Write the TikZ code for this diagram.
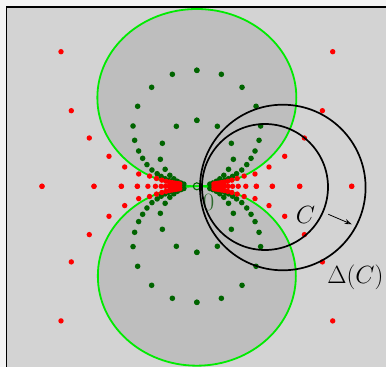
\documentclass[tikz,border=0pt]{standalone}
\usetikzlibrary{arrows.meta}
\definecolor{bgout}{RGB}{244,244,244}
\definecolor{panel}{RGB}{211,211,211}
\definecolor{shade}{RGB}{190,190,190}
\definecolor{lime}{RGB}{0,235,0}
\definecolor{dkgreen}{RGB}{0,100,0}
\definecolor{lblgreen}{RGB}{45,105,45}
\begin{document}
\begin{tikzpicture}[x=1pt,y=1pt,
  reddot/.style={fill=red},
  greendot/.style={fill=dkgreen},
  lens/.style={fill=shade,draw=lime,line width=1.8pt},
  ring/.style={draw=black,line width=1.7pt},
  biglabel/.style={inner sep=0pt,font=\fontsize{23}{27}\selectfont}]
\useasboundingbox (-196.85,-180.7) rectangle (189.15,186.3);
\fill[bgout] (-196.85,-180.7) rectangle (189.15,186.3);
\fill[panel] (-190.35,-182) rectangle (190,179.3);
\draw[line width=1.6pt] (-190.35,-183) -- (-190.35,179.3) -- (191,179.3);
% shaded discs
\draw[lens] (0,88.65) ellipse [x radius=99.5, y radius=88.65];
\draw[lens] (0,-89.7) ellipse [x radius=99, y radius=89.7];
% green dots (one quadrant, mirrored)
\foreach \x/\y in {0/116,-24.5/112,-45.2/99,-59.2/80,-63.8/60.3,-62.2/46,-58.2/35.3,-54.2/28,-49.9/21.7,-44.9/16.3,-39.7/12.6,-35.7/9.9,-31.7/7.6,-28.2/6,-25/4.6,-21.6/3.4,-18.5/2.5,-15.5/1.8,
  0/66,-20.5/60,-34.5/43,-36.5/27,-31.7/17,-27/11,-23/7.5,-19.5/5,-16/3.3,-13/2.2}{
  \foreach \sx in {1,-1}{\foreach \sy in {1,-1}{
    \fill[greendot] (\sx*\x,\sy*\y) circle[radius=2.8pt];}}}
% red dots, measured
\foreach \x/\y in {-135.85/134.6,-125.55/75.6,-107.55/48.3,-87.85/30,-72.15/19.3,-58.15/12.3,-154.85/0,-102.85/0,-75.5/0,-59.5/0}{
  \foreach \sx in {1,-1}{\foreach \sy in {1,-1}{
    \fill[reddot] (\sx*\x,\sy*\y) circle[radius=2.7pt];}}}
% red dots, dense cluster
\foreach \n in {6,...,15}{
  \pgfmathsetmacro{\ax}{317.8/\n-4}
  \pgfmathsetmacro{\ox}{318*\n/(\n*\n+1.2)-4}
  \pgfmathsetmacro{\oy}{350/(\n*\n+1.2)+0.8}
  \foreach \sx in {1,-1}{
    \fill[reddot] (\sx*\ax,0) circle[radius=2.7pt];
    \foreach \sy in {1,-1}{
      \fill[reddot] (\sx*\ox,\sy*\oy) circle[radius=2.7pt];}}}
% origin marker
\node[draw=dkgreen,circle,line width=1.1pt,minimum size=7pt,inner sep=0pt] (orig) at (0,0) {};
\node[biglabel,text=lblgreen] (zero) at (11.65,-15.7) {$0$};
% black circles
\draw[ring] (68.15,-0.7) circle[radius=63];
\draw[ring] (85.95,-1.2) circle[radius=82.8];
\node[biglabel] (lblC) at (108.65,-28.7) {$C$};
\node[biglabel] (lblD) at (158.65,-90.7) {$\Delta(C)$};
\coordinate (aS) at (131.45,-28);
\coordinate (aE) at (154.85,-38);
\draw[line width=0.8pt,-{Stealth[open,length=7pt,width=5pt]}] (aS) -- (aE);
\end{tikzpicture}
\end{document}
